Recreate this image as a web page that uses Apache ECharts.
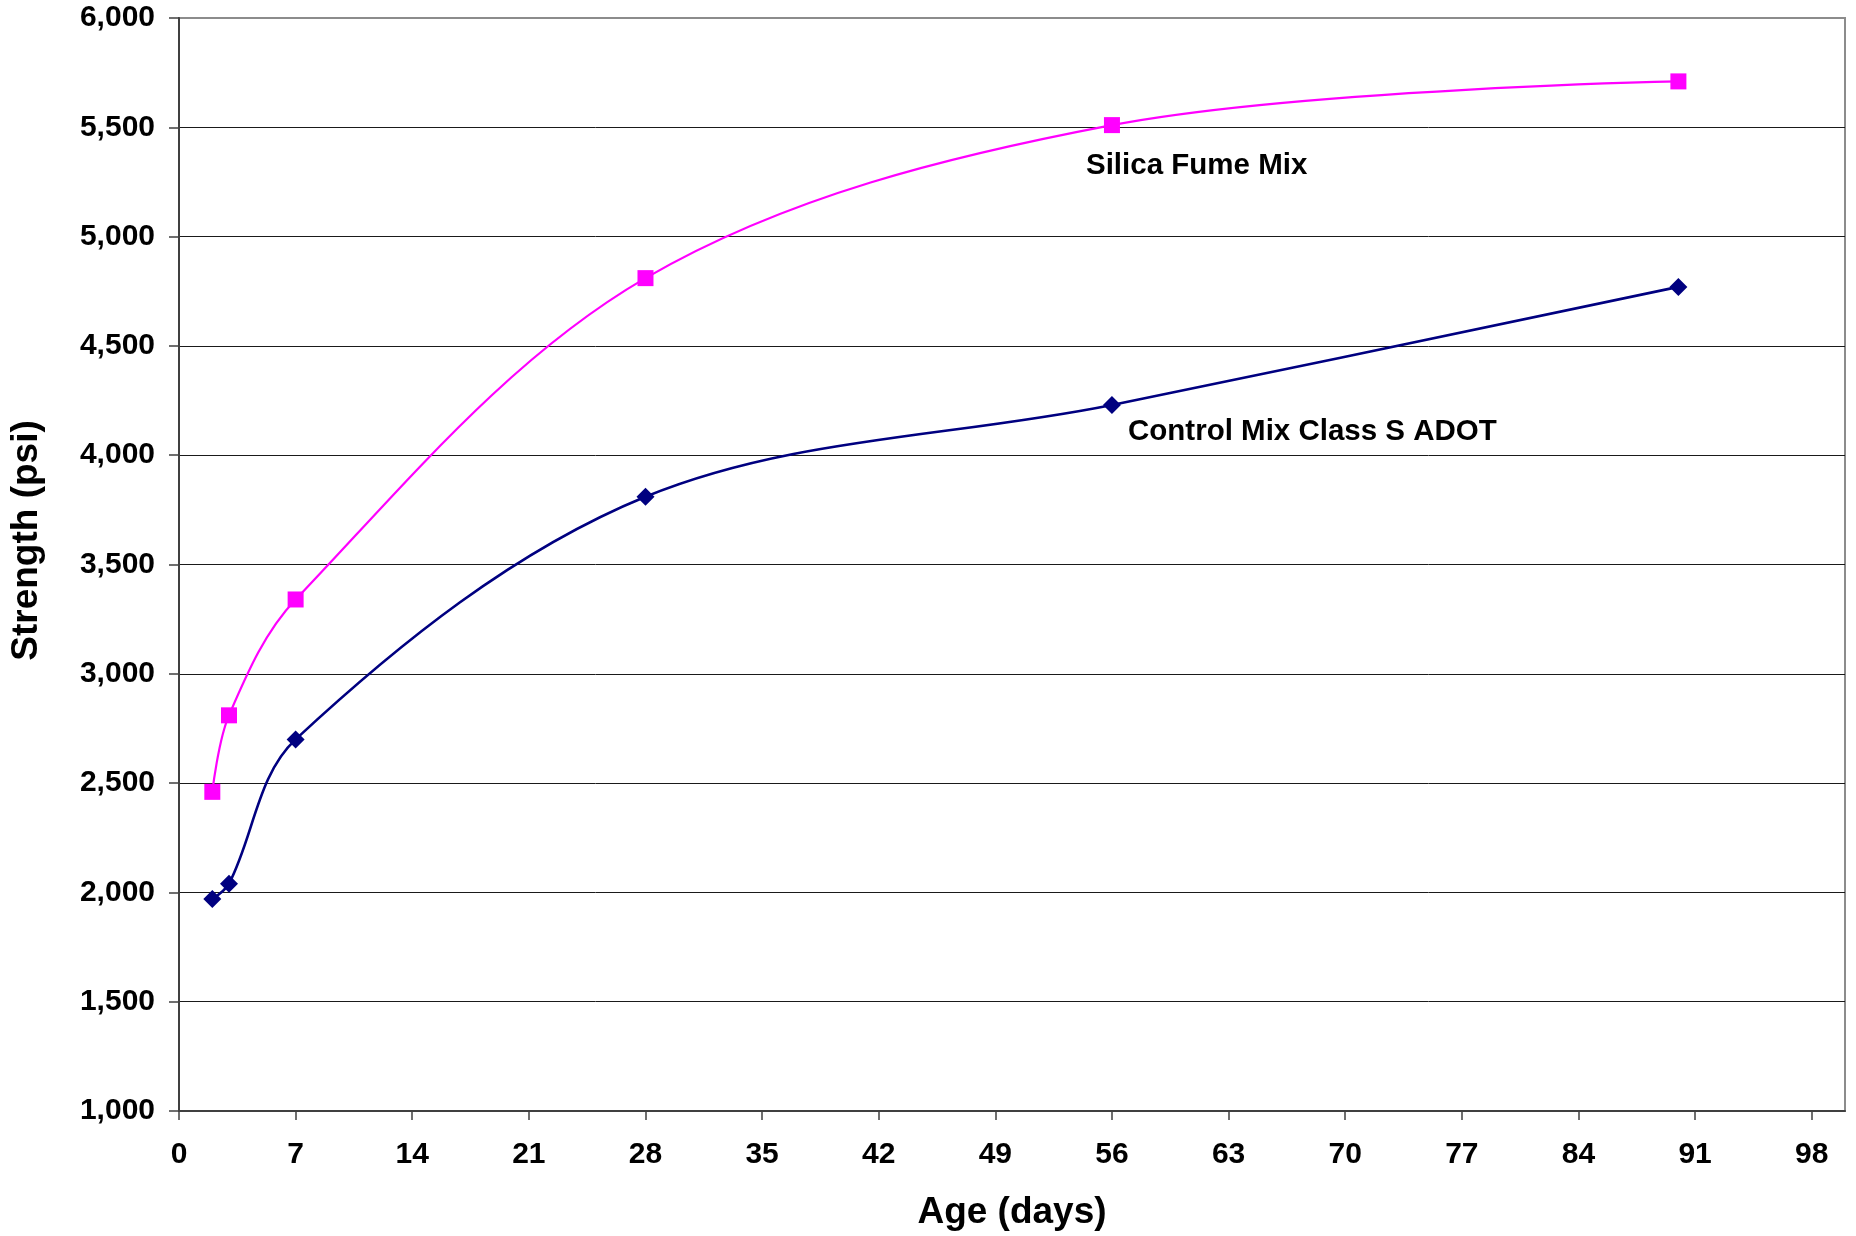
<!DOCTYPE html>
<html>
<head>
<meta charset="utf-8">
<style>
  html, body { margin: 0; padding: 0; background: #fff; }
  #chart { width: 1856px; height: 1236px; }
</style>
<script src="https://cdn.jsdelivr.net/npm/echarts@6/dist/echarts.min.js"></script>
</head>
<body>
<div id="chart"></div>
<script>
// ---- data ----
const ageDays = [2, 3, 7, 28, 56, 90];
const silicaFume = [2460, 2810, 3340, 4810, 5510, 5710];
const controlMix = [1970, 2040, 2700, 3810, 4230, 4770];
const xTickValues = [0, 7, 14, 21, 28, 35, 42, 49, 56, 63, 70, 77, 84, 91, 98];
const seriesNames = ['Silica Fume Mix', 'Control Mix Class S ADOT'];

const FONT = '"Liberation Sans", Arial, sans-serif';

function pairs(xs, ys) { return xs.map((x, i) => [x, ys[i]]); }

const chart = echarts.init(document.getElementById('chart'), null, { renderer: 'canvas' });

const splitColors = [];
for (let i = 0; i < 11; i++) splitColors.push(i === 10 ? 'rgba(0,0,0,0)' : '#1a1a1a');

chart.setOption({
  backgroundColor: '#ffffff',
  animation: false,
  grid: {
    left: 178, top: 18, right: 11, bottom: 124,
    show: true, borderColor: '#8c8c8c', borderWidth: 2, backgroundColor: '#ffffff'
  },
  xAxis: {
    type: 'value', min: 0, max: 100, interval: 7,
    name: 'Age (days)', nameLocation: 'middle', nameGap: 83,
    nameTextStyle: { fontFamily: FONT, fontWeight: 'bold', fontSize: 37, color: '#000' },
    axisLine: { show: true, lineStyle: { color: '#404040', width: 2 } },
    axisTick: { show: true, length: 9, customValues: xTickValues, lineStyle: { color: '#404040', width: 1.5 } },
    axisLabel: { customValues: xTickValues, margin: 29, fontFamily: FONT, fontWeight: 'bold', fontSize: 30, color: '#000' },
    splitLine: { show: false }
  },
  yAxis: {
    type: 'value', min: 1000, max: 6000, interval: 500,
    name: 'Strength (psi)', nameLocation: 'middle', nameGap: 134,
    nameTextStyle: { fontFamily: FONT, fontWeight: 'bold', fontSize: 37, color: '#000', padding: [0, 0, 0, 48] },
    axisLine: { show: true, lineStyle: { color: '#404040', width: 2 } },
    axisTick: { show: true, length: 10, lineStyle: { color: '#404040', width: 1.5 } },
    axisLabel: {
      margin: 24, fontFamily: FONT, fontWeight: 'bold', fontSize: 30, color: '#000',
      formatter: v => v.toLocaleString('en-US')
    },
    splitLine: { show: true, lineStyle: { color: splitColors, width: 1 } }
  },
  series: [
    {
      name: seriesNames[0], type: 'line', smooth: 0.34,
      data: pairs(ageDays, silicaFume),
      symbol: 'rect', symbolSize: 16,
      lineStyle: { color: '#ff00ff', width: 2.2 },
      itemStyle: { color: '#ff00ff' },
      z: 3
    },
    {
      name: seriesNames[1], type: 'line', smooth: 0.34,
      data: pairs(ageDays, controlMix),
      symbol: 'diamond', symbolSize: 18,
      lineStyle: { color: '#000080', width: 2.6 },
      itemStyle: { color: '#000080' },
      z: 3
    }
  ],
  graphic: [
    {
      type: 'text', left: 1086, top: 151,
      style: { text: seriesNames[0], fontFamily: FONT, fontWeight: 'bold', fontSize: 29.5, fill: '#000' }
    },
    {
      type: 'text', left: 1128, top: 417,
      style: { text: seriesNames[1], fontFamily: FONT, fontWeight: 'bold', fontSize: 29.5, fill: '#000' }
    }
  ]
});
</script>
</body>
</html>
